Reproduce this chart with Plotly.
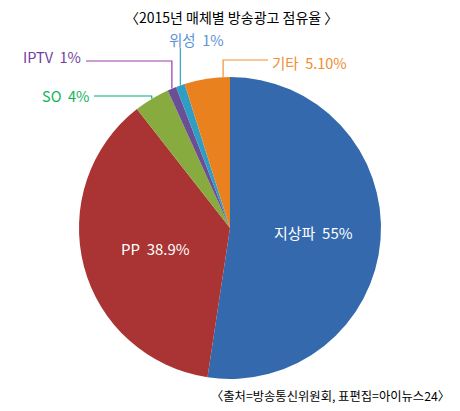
import math
import plotly.graph_objects as go

# data
media = ['지상파', 'PP', 'SO', 'IPTV', '위성', '기타']
share = [55, 38.9, 4, 1, 1, 5.1]
share_text = ['55%', '38.9%', '4%', '1%', '1%', '5.10%']
colors = ['#3469ad', '#aa3333', '#88ab3f', '#6a4e96', '#2f9ec2', '#e9811f']

W, H = 460, 411
OFF = 8  # page body margin
# pie geometry (pixels in the screenshot)
cx, cy, r = 230, 228, 151


def px(x):
    return (x - OFF) / W


def py(y):
    return 1 - (y - OFF) / H


fig = go.Figure()
fig.add_trace(go.Pie(
    labels=media,
    values=share,
    sort=False,
    direction='clockwise',
    rotation=0,
    textinfo='none',
    hoverinfo='label+value',
    marker=dict(colors=colors, line=dict(width=0)),
    domain=dict(x=[px(cx - r), px(cx + r)],
                y=[py(cy + r), py(cy - r)]),
    showlegend=False,
))

font = 'Noto Sans CJK KR, Malgun Gothic, sans-serif'
total = sum(share)
starts = []
acc = 0
for v in share:
    starts.append(acc)
    acc += v


def edge_point(i, frac=0.5):
    # point on pie edge inside slice i, clockwise from 12 o'clock
    ang = 2 * math.pi * (starts[i] + frac * share[i]) / total
    return cx + r * math.sin(ang), cy - r * math.cos(ang)


annotations = []
shapes = []

# labels inside the two big slices
inside_pos = {0: (313, 232), 1: (155, 249)}
for i, (x, y) in inside_pos.items():
    annotations.append(dict(x=px(x), y=py(y), xref='paper', yref='paper',
                            xanchor='center', yanchor='middle',
                            text=media[i] + '\u00a0 ' + share_text[i], showarrow=False,
                            font=dict(family=font, size=15, color='white')))

# outside labels with leader lines
# index, label pos, label anchor, elbow y, line color, text color, anchor frac
outside = [
    (2, (91, 96), 'right', 96, '#00b074', '#12b35a', 0.5),
    (3, (83, 57), 'right', 61, '#9b3aac', '#6f3fa3', 0.5),
    (4, (196, 39), 'center', None, '#3aa0c2', '#5b93d6', 0.5),
    (5, (270, 62), 'left', 60, '#f0912d', '#f08c33', 0.85),
]
for i, (lx, ly), anchor, ey, lc, tc, frac in outside:
    annotations.append(dict(x=px(lx), y=py(ly), xref='paper', yref='paper',
                            xanchor=anchor, yanchor='middle',
                            text=media[i] + '\u00a0 ' + share_text[i],
                            showarrow=False,
                            font=dict(family=font, size=14.5, color=tc)))
    ex, eyy = edge_point(i, frac)
    if ey is None:
        path = 'M %f,%f L %f,%f' % (px(ex), py(48), px(ex), py(eyy))
    else:
        sx = lx + 3 if anchor == 'right' else lx - 2
        path = 'M %f,%f L %f,%f L %f,%f' % (px(sx), py(ey), px(ex), py(ey),
                                           px(ex), py(eyy))
    shapes.append(dict(type='path', path=path, xref='paper', yref='paper',
                       line=dict(color=lc, width=1.2)))

# title and source
annotations.append(dict(x=px(231), y=py(17), xref='paper', yref='paper',
                        xanchor='center', yanchor='middle', borderpad=0,
                        text='〈2015년 매체별 방송광고 점유율 〉', showarrow=False,
                        font=dict(family=font, size=14, color='black')))
annotations.append(dict(x=px(452), y=py(396), xref='paper', yref='paper',
                        xanchor='right', yanchor='middle',
                        text='〈출처=방송통신위원회, 표편집=아이뉴스24〉',
                        showarrow=False,
                        font=dict(family=font, size=12.3, color='black')))

fig.update_layout(
    width=W, height=H,
    margin=dict(l=0, r=0, t=0, b=0),
    paper_bgcolor='white',
    plot_bgcolor='white',
    annotations=annotations,
    shapes=shapes,
)
fig.write_html('out.html')
